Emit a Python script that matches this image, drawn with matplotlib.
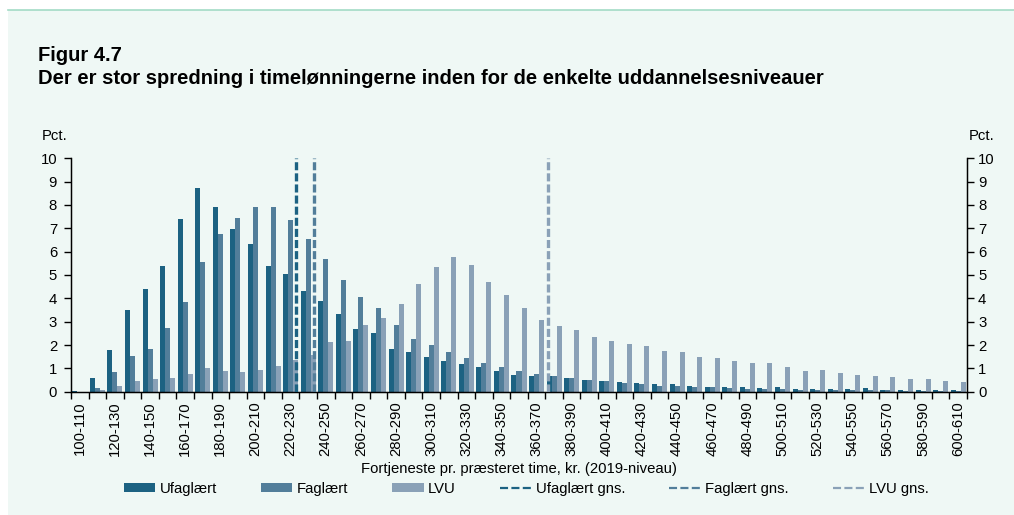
import matplotlib
matplotlib.use("Agg")
import matplotlib.pyplot as plt
from matplotlib.lines import Line2D
from matplotlib.patches import Patch, Rectangle
import numpy as np

plt.rcParams['font.family'] = ['Liberation Sans', 'DejaVu Sans']

categories = ["100-110", "110-120", "120-130", "130-140", "140-150", "150-160", "160-170",
              "170-180", "180-190", "190-200", "200-210", "210-220", "220-230", "230-240",
              "240-250", "250-260", "260-270", "270-280", "280-290", "290-300", "300-310",
              "310-320", "320-330", "330-340", "340-350", "350-360", "360-370", "370-380",
              "380-390", "390-400", "400-410", "410-420", "420-430", "430-440", "440-450",
              "450-460", "460-470", "470-480", "480-490", "490-500", "500-510", "510-520",
              "520-530", "530-540", "540-550", "550-560", "560-570", "570-580", "580-590",
              "590-600", "600-610"]

ufaglaert = [0.02, 0.57, 1.77, 3.49, 4.39, 5.39, 7.39, 8.74, 7.90, 6.99, 6.31, 5.40, 5.04,
             4.31, 3.89, 3.34, 2.70, 2.53, 1.84, 1.69, 1.47, 1.30, 1.20, 1.07, 0.87, 0.71,
             0.66, 0.66, 0.57, 0.50, 0.46, 0.40, 0.37, 0.33, 0.31, 0.23, 0.19, 0.20, 0.21,
             0.16, 0.18, 0.11, 0.10, 0.11, 0.10, 0.14, 0.07, 0.07, 0.09, 0.07, 0.09]
faglaert = [0.00, 0.17, 0.84, 1.51, 1.83, 2.73, 3.83, 5.57, 6.74, 7.43, 7.93, 7.90, 7.37,
            6.54, 5.69, 4.79, 4.07, 3.57, 2.86, 2.27, 2.00, 1.69, 1.43, 1.21, 1.07, 0.90,
            0.77, 0.66, 0.57, 0.50, 0.44, 0.36, 0.33, 0.26, 0.24, 0.20, 0.20, 0.14, 0.13,
            0.13, 0.13, 0.09, 0.06, 0.06, 0.06, 0.07, 0.06, 0.04, 0.04, 0.03, 0.03]
lvu = [0.00, 0.09, 0.23, 0.46, 0.53, 0.59, 0.77, 1.01, 0.87, 0.84, 0.93, 1.10, 1.36,
       1.57, 2.11, 2.19, 2.87, 3.16, 3.77, 4.61, 5.36, 5.79, 5.41, 4.69, 4.13, 3.60,
       3.07, 2.83, 2.63, 2.36, 2.16, 2.03, 1.97, 1.76, 1.69, 1.47, 1.43, 1.30, 1.21,
       1.24, 1.07, 0.90, 0.94, 0.79, 0.70, 0.66, 0.64, 0.56, 0.53, 0.46, 0.43]

# average hourly earnings (kr.) per group
mean_ufaglaert = 228.2
mean_faglaert = 238.3
mean_lvu = 371.6
first_bin_center = 105.0
bin_width = 10.0

series_names = ["Ufaglært", "Faglært", "LVU"]
mean_names = ["Ufaglært gns.", "Faglært gns.", "LVU gns."]
colors = ["#1c6282", "#527e9a", "#8aa1b7"]
bg = "#eff8f5"

W, H = 1014, 515
fig = plt.figure(figsize=(W / 100, H / 100), dpi=100)
fig.patch.set_facecolor("white")
fig.patches.append(Rectangle((8 / W, 0), 1 - 8 / W, 1 - 10 / H, transform=fig.transFigure,
                             facecolor=bg, edgecolor="none", zorder=-10))
fig.lines.append(Line2D([8 / W, 1], [1 - 10 / H, 1 - 10 / H], transform=fig.transFigure,
                        color="#a3dbc6", lw=1.2))

ax = fig.add_axes([71 / W, 1 - 391.7 / H, (967 - 71) / W, (391.7 - 158.3) / H])
ax.set_facecolor("none")
n = len(categories)
x = np.arange(n)
bw = 0.285
for k, (vals, c, name) in enumerate(zip([ufaglaert, faglaert, lvu], colors, series_names)):
    ax.bar(x + (k - 1) * bw, vals, width=bw, color=c, edgecolor="none", label=name, zorder=2)

vlw = 2.4
for m, c in zip([mean_ufaglaert, mean_faglaert, mean_lvu], colors):
    xi = (m - first_bin_center) / bin_width
    ax.plot([xi, xi], [0, 10], color=c, lw=vlw, dashes=(5.8 / vlw, 2.2 / vlw), zorder=3)

FS = 10.75
ax.set_xlim(-0.5, n - 0.5)
ax.set_ylim(0, 10)
ax.set_yticks(range(0, 11))
ax.tick_params(axis="y", direction="out", length=5, width=1, labelsize=FS, pad=5)
ax.set_xticks(np.arange(-0.5, n, 1.0))
ax.set_xticklabels([])
ax.tick_params(axis="x", which="major", direction="out", length=5, width=1)
ax.set_xticks(x[::2], minor=True)
ax.set_xticklabels(categories[::2], minor=True, rotation=90, fontsize=FS)
ax.tick_params(axis="x", which="minor", length=0, pad=7)
ax.spines["top"].set_visible(False)
for s in ["left", "right", "bottom"]:
    ax.spines[s].set_linewidth(1)
    ax.spines[s].set_color("black")

ax2 = ax.twinx()
ax2.set_ylim(0, 10)
ax2.set_yticks(range(0, 11))
ax2.tick_params(axis="y", direction="out", length=5, width=1, labelsize=FS, pad=3)
ax2.spines["top"].set_visible(False)

TFS = 14.5
fig.text(38 / W, 1 - 61 / H, "Figur 4.7", fontsize=TFS, fontweight="bold", va="baseline", ha="left")
fig.text(38 / W, 1 - 83.5 / H, "Der er stor spredning i timelønningerne inden for de enkelte uddannelsesniveauer",
         fontsize=TFS, fontweight="bold", va="baseline", ha="left")
fig.text(42 / W, 1 - 140 / H, "Pct.", fontsize=FS, va="baseline", ha="left")
fig.text(969 / W, 1 - 140 / H, "Pct.", fontsize=FS, va="baseline", ha="left")
fig.text(519 / W, 1 - 469 / H, "Fortjeneste pr. præsteret time, kr. (2019-niveau)", fontsize=FS,
         va="center", ha="center")

llw = 1.6
handles = [Patch(facecolor=c, edgecolor="none") for c in colors]
handles += [Line2D([], [], color=c, lw=llw, dashes=(5.8 / llw, 2.4 / llw)) for c in colors]
labels = series_names + mean_names
fig.legend(handles, labels, loc="center", bbox_to_anchor=(526 / W, 1 - 489 / H), ncol=6,
           frameon=False, fontsize=FS, handlelength=2.1, handleheight=0.5, handletextpad=0.3,
           columnspacing=2.95, borderpad=0)

fig.savefig("out.png", dpi=100, facecolor=fig.get_facecolor())
